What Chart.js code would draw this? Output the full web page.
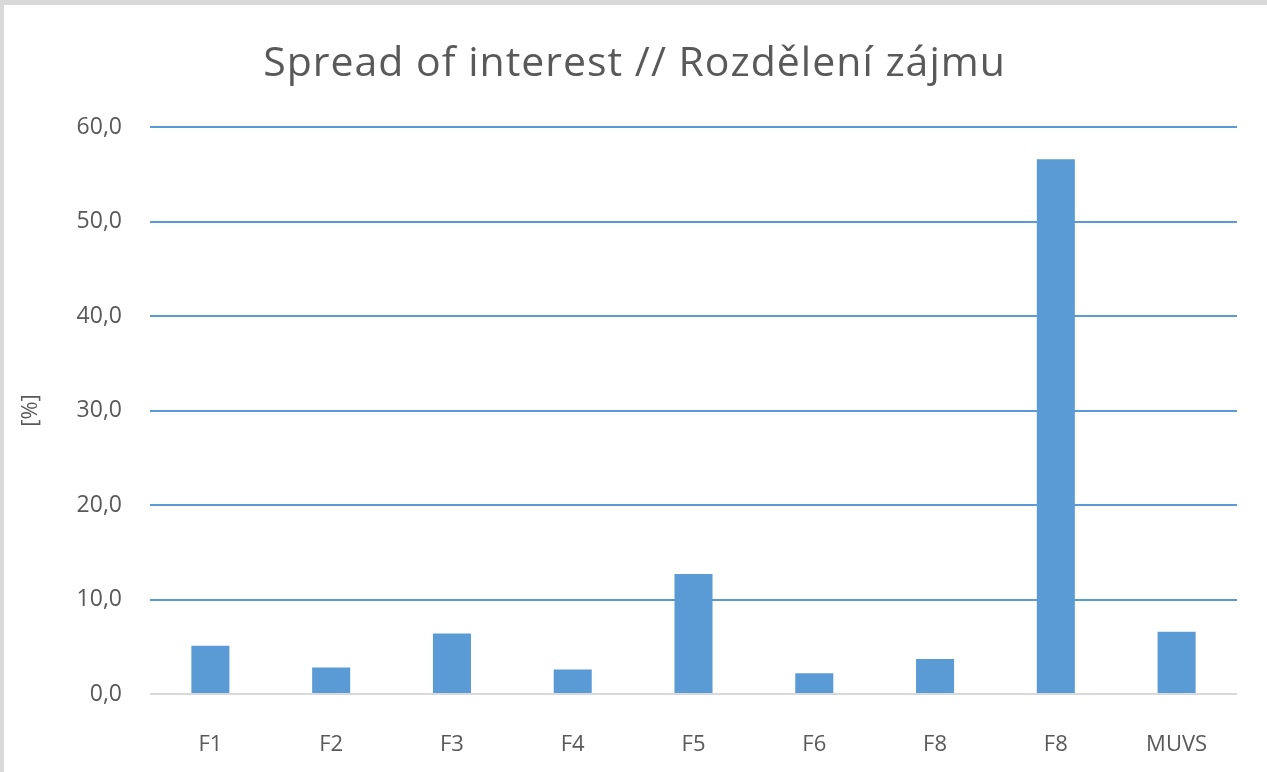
<!DOCTYPE html>
<html>
<head>
<meta charset="utf-8">
<script src="https://cdn.jsdelivr.net/npm/chart.js@4/dist/chart.umd.min.js"></script>
<style>
  html, body { margin: 0; padding: 0; background: #fff; }
  #wrap { position: relative; width: 1267px; height: 772px; overflow: hidden; }
  #graf { position: absolute; left: 0; top: 0; }
  .lemTop { position: absolute; left: 0; top: 0; width: 1267px; height: 5px; background: #d9d9d9; }
  .lemLeft { position: absolute; left: 0; top: 0; width: 4px; height: 772px; background: #d9d9d9; }
</style>
</head>
<body>
<div id="wrap">
  <canvas id="graf" width="1267" height="772"></canvas>
  <div class="lemTop"></div>
  <div class="lemLeft"></div>
</div>
<script>
const kategorie = ["F1", "F2", "F3", "F4", "F5", "F6", "F8", "F8", "MUVS"];
const hodnoty = [5.1, 2.8, 6.4, 2.6, 12.7, 2.2, 3.7, 56.6, 6.6];
const yTicky = [0, 10, 20, 30, 40, 50, 60];
const nadpis = "Spread of interest // Rozdělení zájmu";

const modra = "#5b9bd5";
const seda = "#595959";
const pismo = "'Open Sans', 'Noto Sans', sans-serif";

// nadpis vycentrovany na celou sirku platna (jako v Excelu)
const nadpisPlugin = {
    id: "nadpisPlugin",
    afterDraw: function(chart) {
        const ctx = chart.ctx;
        ctx.save();
        ctx.font = "41px " + pismo;
        ctx.fillStyle = seda;
        ctx.textAlign = "center";
        ctx.textBaseline = "middle";
        if ("letterSpacing" in ctx) ctx.letterSpacing = "1px";
        ctx.fillText(nadpis, chart.width / 2 + 1, 64);
        ctx.restore();
    }
};

new Chart(document.getElementById("graf").getContext("2d"), {
    type: "bar",
    data: {
        labels: kategorie,
        datasets: [{ data: hodnoty, backgroundColor: modra, barPercentage: 0.315, categoryPercentage: 1 }]
    },
    options: {
        responsive: false,
        animation: false,
        layout: { padding: { left: 0, right: 30, top: 127, bottom: 0 } },
        plugins: {
            legend: { display: false },
            tooltip: { enabled: false },
            title: { display: false }
        },
        scales: {
            x: {
                grid: { display: false },
                border: { display: false },
                ticks: { color: seda, font: { family: pismo, size: 22 }, padding: 30 },
                afterFit: function(s) { s.height = 78; }
            },
            y: {
                min: 0, max: 60,
                afterBuildTicks: function(s) { s.ticks = yTicky.map(function(v) { return { value: v }; }); },
                grid: {
                    color: function(c) { return c.tick && c.tick.value === 0 ? "#d9d9d9" : modra; },
                    lineWidth: 2,
                    drawTicks: false
                },
                border: { display: false },
                ticks: {
                    color: seda,
                    font: { family: pismo, size: 23 },
                    padding: 28,
                    callback: function(v) { return v.toFixed(1).replace(".", ","); }
                },
                title: { display: true, text: "[%]", color: seda, font: { family: pismo, size: 22 }, padding: { top: 18, bottom: 0 } },
                afterFit: function(s) { s.width = 150; }
            }
        }
    },
    plugins: [nadpisPlugin]
});
</script>
</body>
</html>
